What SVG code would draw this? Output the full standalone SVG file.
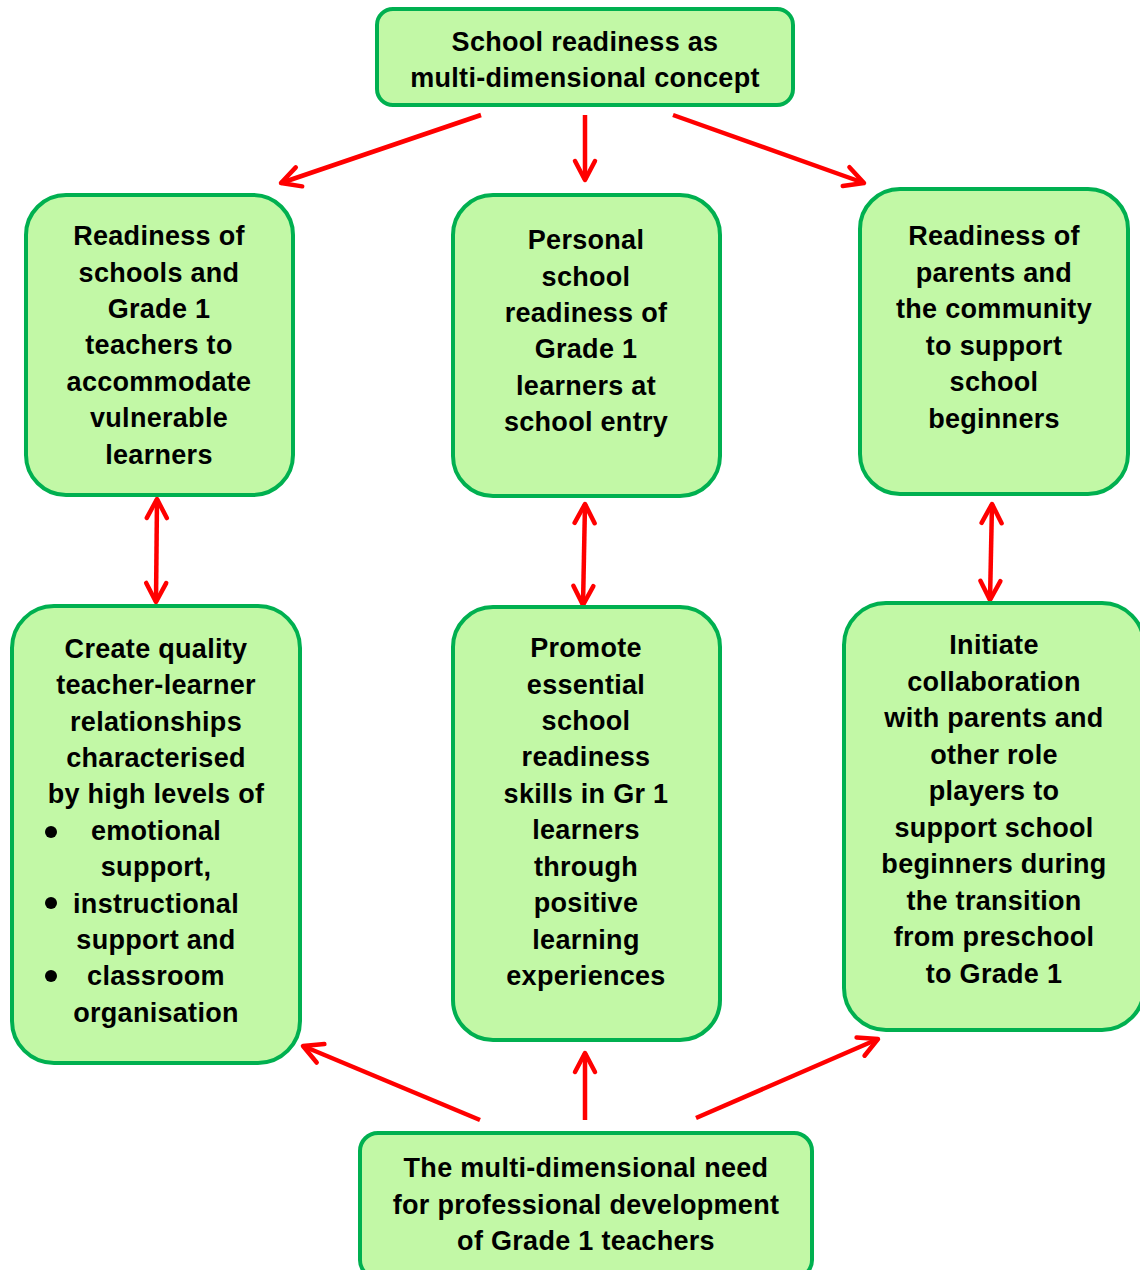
<svg xmlns="http://www.w3.org/2000/svg" width="1140" height="1270" viewBox="0 0 1140 1270">
  <style>
    .box { fill: #C2F8A6; stroke: #00B050; stroke-width: 4; }
    .lbl { font-family: "Liberation Sans", Arial, sans-serif; font-weight: bold; font-size: 27px; letter-spacing: 0.3px; fill: #000; text-anchor: middle; }
    .link { stroke: #FF0000; stroke-width: 4.5; fill: none; }
    .dot { fill: #000; }
  </style>
  <defs>
    <marker id="head" markerUnits="userSpaceOnUse" viewBox="-26 -14 30 28" markerWidth="30" markerHeight="28" refX="0" refY="0" orient="auto-start-reverse">
      <path d="M-19,-10 L0,0 L-19,10" fill="none" stroke="#FF0000" stroke-width="4.5" stroke-linecap="round" stroke-linejoin="round"/>
    </marker>
  </defs>
  <rect width="1140" height="1270" fill="#FFFFFF"/>

  <!-- connectors -->
  <g id="connectors">
    <line class="link" x1="481" y1="115" x2="281" y2="183" marker-end="url(#head)"/>
    <line class="link" x1="585" y1="115" x2="585" y2="180" marker-end="url(#head)"/>
    <line class="link" x1="673" y1="115" x2="864" y2="183" marker-end="url(#head)"/>
    <line class="link" x1="157" y1="499" x2="156" y2="602" marker-start="url(#head)" marker-end="url(#head)"/>
    <line class="link" x1="585" y1="504" x2="583" y2="605" marker-start="url(#head)" marker-end="url(#head)"/>
    <line class="link" x1="992" y1="504" x2="990" y2="600" marker-start="url(#head)" marker-end="url(#head)"/>
    <line class="link" x1="480" y1="1120" x2="303" y2="1046" marker-end="url(#head)"/>
    <line class="link" x1="585" y1="1120" x2="585" y2="1053" marker-end="url(#head)"/>
    <line class="link" x1="696" y1="1118" x2="878" y2="1039" marker-end="url(#head)"/>
  </g>

  <!-- top concept -->
  <g id="concept">
    <rect class="box" x="377" y="9" width="416" height="96" rx="16"/>
    <text class="lbl" x="585" y="51">School readiness as</text>
    <text class="lbl" x="585" y="87">multi-dimensional concept</text>
  </g>

  <g id="schools-readiness">
    <rect class="box" x="26" y="195" width="267" height="300" rx="40"/>
    <text class="lbl" x="159" y="245">Readiness of</text>
    <text class="lbl" x="159" y="281.5">schools and</text>
    <text class="lbl" x="159" y="318">Grade 1</text>
    <text class="lbl" x="159" y="354">teachers to</text>
    <text class="lbl" x="159" y="390.5">accommodate</text>
    <text class="lbl" x="159" y="427">vulnerable</text>
    <text class="lbl" x="159" y="463.5">learners</text>
  </g>

  <g id="personal-readiness">
    <rect class="box" x="453" y="195" width="267" height="301" rx="40"/>
    <text class="lbl" x="586" y="249">Personal</text>
    <text class="lbl" x="586" y="285.5">school</text>
    <text class="lbl" x="586" y="322">readiness of</text>
    <text class="lbl" x="586" y="358">Grade 1</text>
    <text class="lbl" x="586" y="394.5">learners at</text>
    <text class="lbl" x="586" y="431">school entry</text>
  </g>

  <g id="parents-readiness">
    <rect class="box" x="860" y="189" width="268" height="305" rx="40"/>
    <text class="lbl" x="994" y="245">Readiness of</text>
    <text class="lbl" x="994" y="281.5">parents and</text>
    <text class="lbl" x="994" y="318">the community</text>
    <text class="lbl" x="994" y="354.5">to support</text>
    <text class="lbl" x="994" y="391">school</text>
    <text class="lbl" x="994" y="427.5">beginners</text>
  </g>

  <g id="relationships">
    <rect class="box" x="12" y="606" width="288" height="457" rx="42"/>
    <text class="lbl" x="156" y="658">Create quality</text>
    <text class="lbl" x="156" y="694">teacher-learner</text>
    <text class="lbl" x="156" y="730.5">relationships</text>
    <text class="lbl" x="156" y="767">characterised</text>
    <text class="lbl" x="156" y="803">by high levels of</text>
    <circle class="dot" cx="51" cy="832" r="6"/>
    <text class="lbl" x="156" y="840">emotional</text>
    <text class="lbl" x="156" y="876">support,</text>
    <circle class="dot" cx="51" cy="903" r="6"/>
    <text class="lbl" x="156" y="912.5">instructional</text>
    <text class="lbl" x="156" y="949">support and</text>
    <circle class="dot" cx="51" cy="976" r="6"/>
    <text class="lbl" x="156" y="985">classroom</text>
    <text class="lbl" x="156" y="1021.5">organisation</text>
  </g>

  <g id="skills">
    <rect class="box" x="453" y="607" width="267" height="433" rx="40"/>
    <text class="lbl" x="586" y="657">Promote</text>
    <text class="lbl" x="586" y="693.5">essential</text>
    <text class="lbl" x="586" y="730">school</text>
    <text class="lbl" x="586" y="766">readiness</text>
    <text class="lbl" x="586" y="802.5">skills in Gr 1</text>
    <text class="lbl" x="586" y="839">learners</text>
    <text class="lbl" x="586" y="875.5">through</text>
    <text class="lbl" x="586" y="912">positive</text>
    <text class="lbl" x="586" y="948.5">learning</text>
    <text class="lbl" x="586" y="985">experiences</text>
  </g>

  <g id="collaboration">
    <rect class="box" x="844" y="603" width="300" height="427" rx="42"/>
    <text class="lbl" x="994" y="654">Initiate</text>
    <text class="lbl" x="994" y="690.5">collaboration</text>
    <text class="lbl" x="994" y="727">with parents and</text>
    <text class="lbl" x="994" y="763.5">other role</text>
    <text class="lbl" x="994" y="800">players to</text>
    <text class="lbl" x="994" y="836.5">support school</text>
    <text class="lbl" x="994" y="873">beginners during</text>
    <text class="lbl" x="994" y="909.5">the transition</text>
    <text class="lbl" x="994" y="946">from preschool</text>
    <text class="lbl" x="994" y="982.5">to Grade 1</text>
  </g>

  <g id="professional-development">
    <rect class="box" x="360" y="1133" width="452" height="145" rx="18"/>
    <text class="lbl" x="586" y="1177">The multi-dimensional need</text>
    <text class="lbl" x="586" y="1213.5">for professional development</text>
    <text class="lbl" x="586" y="1250">of Grade 1 teachers</text>
  </g>
</svg>
